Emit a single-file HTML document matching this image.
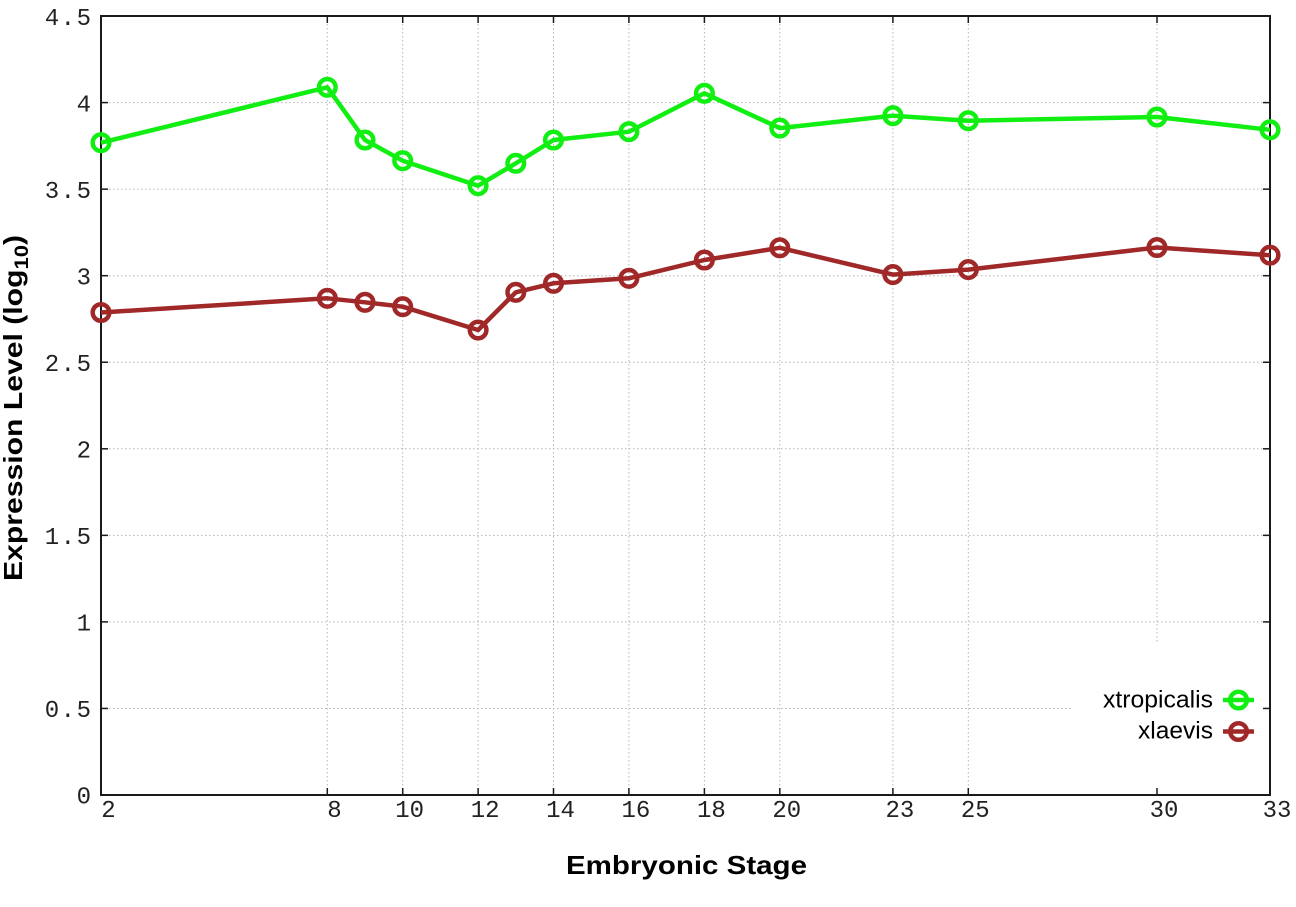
<!DOCTYPE html>
<html>
<head>
<meta charset="utf-8">
<style>
  html, body { margin:0; padding:0; background:#ffffff; }
  svg { display:block; }
</style>
</head>
<body>
<svg width="1296" height="907" viewBox="0 0 1296 907" xmlns="http://www.w3.org/2000/svg">
  <rect x="0" y="0" width="1296" height="907" fill="#ffffff"/>

  <!-- horizontal grid -->
  <g stroke="#b4b4b4" stroke-width="1" stroke-dasharray="1.5,2.5" fill="none">
    <line x1="101" y1="708.45" x2="1270" y2="708.45"/>
    <line x1="101" y1="621.9" x2="1270" y2="621.9"/>
    <line x1="101" y1="535.35" x2="1270" y2="535.35"/>
    <line x1="101" y1="448.8" x2="1270" y2="448.8"/>
    <line x1="101" y1="362.25" x2="1270" y2="362.25"/>
    <line x1="101" y1="275.7" x2="1270" y2="275.7"/>
    <line x1="101" y1="189.15" x2="1270" y2="189.15"/>
    <line x1="101" y1="102.6" x2="1270" y2="102.6"/>
    <!-- vertical grid -->
    <line x1="327.3" y1="16" x2="327.3" y2="795"/>
    <line x1="402.7" y1="16" x2="402.7" y2="795"/>
    <line x1="478.1" y1="16" x2="478.1" y2="795"/>
    <line x1="553.5" y1="16" x2="553.5" y2="795"/>
    <line x1="628.9" y1="16" x2="628.9" y2="795"/>
    <line x1="704.4" y1="16" x2="704.4" y2="795"/>
    <line x1="779.8" y1="16" x2="779.8" y2="795"/>
    <line x1="892.9" y1="16" x2="892.9" y2="795"/>
    <line x1="968.3" y1="16" x2="968.3" y2="795"/>
    <line x1="1157" y1="16" x2="1157" y2="795"/>
  </g>

  <!-- legend mask -->
  <rect x="1071" y="642" width="198" height="152" fill="#ffffff"/>

  <!-- border -->
  <rect x="101" y="16" width="1169" height="779" fill="none" stroke="#1a1a1a" stroke-width="2"/>

  <!-- ticks -->
  <g stroke="#1a1a1a" stroke-width="1.5">
    <line x1="101" y1="708.45" x2="108" y2="708.45"/><line x1="1263" y1="708.45" x2="1270" y2="708.45"/>
    <line x1="101" y1="621.9" x2="108" y2="621.9"/><line x1="1263" y1="621.9" x2="1270" y2="621.9"/>
    <line x1="101" y1="535.35" x2="108" y2="535.35"/><line x1="1263" y1="535.35" x2="1270" y2="535.35"/>
    <line x1="101" y1="448.8" x2="108" y2="448.8"/><line x1="1263" y1="448.8" x2="1270" y2="448.8"/>
    <line x1="101" y1="362.25" x2="108" y2="362.25"/><line x1="1263" y1="362.25" x2="1270" y2="362.25"/>
    <line x1="101" y1="275.7" x2="108" y2="275.7"/><line x1="1263" y1="275.7" x2="1270" y2="275.7"/>
    <line x1="101" y1="189.15" x2="108" y2="189.15"/><line x1="1263" y1="189.15" x2="1270" y2="189.15"/>
    <line x1="101" y1="102.6" x2="108" y2="102.6"/><line x1="1263" y1="102.6" x2="1270" y2="102.6"/>
    <line x1="327.3" y1="795" x2="327.3" y2="788"/><line x1="327.3" y1="16" x2="327.3" y2="23"/>
    <line x1="402.7" y1="795" x2="402.7" y2="788"/><line x1="402.7" y1="16" x2="402.7" y2="23"/>
    <line x1="478.1" y1="795" x2="478.1" y2="788"/><line x1="478.1" y1="16" x2="478.1" y2="23"/>
    <line x1="553.5" y1="795" x2="553.5" y2="788"/><line x1="553.5" y1="16" x2="553.5" y2="23"/>
    <line x1="628.9" y1="795" x2="628.9" y2="788"/><line x1="628.9" y1="16" x2="628.9" y2="23"/>
    <line x1="704.4" y1="795" x2="704.4" y2="788"/><line x1="704.4" y1="16" x2="704.4" y2="23"/>
    <line x1="779.8" y1="795" x2="779.8" y2="788"/><line x1="779.8" y1="16" x2="779.8" y2="23"/>
    <line x1="892.9" y1="795" x2="892.9" y2="788"/><line x1="892.9" y1="16" x2="892.9" y2="23"/>
    <line x1="968.3" y1="795" x2="968.3" y2="788"/><line x1="968.3" y1="16" x2="968.3" y2="23"/>
    <line x1="1157" y1="795" x2="1157" y2="788"/><line x1="1157" y1="16" x2="1157" y2="23"/>
  </g>

  <!-- y tick labels -->
  <g font-family="'Liberation Mono', monospace" font-size="24" fill="#222" text-anchor="end">
    <text x="91" y="803.5">0</text>
    <text x="92.5" y="717" letter-spacing="1.5">0.5</text>
    <text x="91" y="630.5">1</text>
    <text x="92.5" y="544" letter-spacing="1.5">1.5</text>
    <text x="91" y="457.5">2</text>
    <text x="92.5" y="371" letter-spacing="1.5">2.5</text>
    <text x="91" y="284.5">3</text>
    <text x="92.5" y="198" letter-spacing="1.5">3.5</text>
    <text x="91" y="111.5">4</text>
    <text x="92.5" y="25" letter-spacing="1.5">4.5</text>
  </g>

  <!-- x tick labels -->
  <g font-family="'Liberation Mono', monospace" font-size="24" fill="#222" text-anchor="middle">
    <text x="108.5" y="817">2</text>
    <text x="334.5" y="817">8</text>
    <text x="409.7" y="817">10</text>
    <text x="485.1" y="817">12</text>
    <text x="560.5" y="817">14</text>
    <text x="635.9" y="817">16</text>
    <text x="711.4" y="817">18</text>
    <text x="786.8" y="817">20</text>
    <text x="899.9" y="817">23</text>
    <text x="975.3" y="817">25</text>
    <text x="1164" y="817">30</text>
    <text x="1277" y="817">33</text>
  </g>

  <!-- axis titles -->
  <text x="566" y="874" font-family="'Liberation Sans', sans-serif" font-weight="bold" font-size="26" fill="#000" textLength="241" lengthAdjust="spacingAndGlyphs">Embryonic Stage</text>

  <g transform="translate(22,408) rotate(-90) scale(1.16,1)">
    <text x="0" y="0" text-anchor="middle" font-family="'Liberation Sans', sans-serif" font-weight="bold" font-size="26" fill="#000">Expression Level (log<tspan font-size="19" dy="6">10</tspan><tspan dy="-6">)</tspan></text>
  </g>

  <!-- xtropicalis series -->
  <g stroke="#11ee11" fill="none" stroke-width="4.5" stroke-linejoin="round">
    <polyline points="101,142.7 327.3,87.3 365,140 402.7,160.7 478.1,185.7 515.8,163.3 553.5,140 628.9,131.7 704.4,93.3 779.8,128.1 892.9,115.7 968.3,120.7 1157,117 1270,129.8"/>
    <circle cx="101" cy="142.7" r="8.3"/>
    <circle cx="327.3" cy="87.3" r="8.3"/>
    <circle cx="365" cy="140" r="8.3"/>
    <circle cx="402.7" cy="160.7" r="8.3"/>
    <circle cx="478.1" cy="185.7" r="8.3"/>
    <circle cx="515.8" cy="163.3" r="8.3"/>
    <circle cx="553.5" cy="140" r="8.3"/>
    <circle cx="628.9" cy="131.7" r="8.3"/>
    <circle cx="704.4" cy="93.3" r="8.3"/>
    <circle cx="779.8" cy="128.1" r="8.3"/>
    <circle cx="892.9" cy="115.7" r="8.3"/>
    <circle cx="968.3" cy="120.7" r="8.3"/>
    <circle cx="1157" cy="117" r="8.3"/>
    <circle cx="1270" cy="129.8" r="8.3"/>
  </g>

  <!-- xlaevis series -->
  <g stroke="#a02828" fill="none" stroke-width="4.5" stroke-linejoin="round">
    <polyline points="101,312.5 327.3,298.3 365,302.3 402.7,306.7 478.1,330 515.8,292.3 553.5,283.3 628.9,278.3 704.4,260 779.8,247.8 892.9,274.6 968.3,269.6 1157,247.5 1270,255.2"/>
    <circle cx="101" cy="312.5" r="8.3"/>
    <circle cx="327.3" cy="298.3" r="8.3"/>
    <circle cx="365" cy="302.3" r="8.3"/>
    <circle cx="402.7" cy="306.7" r="8.3"/>
    <circle cx="478.1" cy="330" r="8.3"/>
    <circle cx="515.8" cy="292.3" r="8.3"/>
    <circle cx="553.5" cy="283.3" r="8.3"/>
    <circle cx="628.9" cy="278.3" r="8.3"/>
    <circle cx="704.4" cy="260" r="8.3"/>
    <circle cx="779.8" cy="247.8" r="8.3"/>
    <circle cx="892.9" cy="274.6" r="8.3"/>
    <circle cx="968.3" cy="269.6" r="8.3"/>
    <circle cx="1157" cy="247.5" r="8.3"/>
    <circle cx="1270" cy="255.2" r="8.3"/>
  </g>

  <!-- legend -->
  <g font-family="'Liberation Sans', sans-serif" font-size="24" fill="#000">
    <text x="1103" y="707.5" textLength="110" lengthAdjust="spacingAndGlyphs">xtropicalis</text>
    <text x="1138" y="738.5" textLength="75" lengthAdjust="spacingAndGlyphs">xlaevis</text>
  </g>
  <g stroke="#11ee11" fill="none" stroke-width="4.5">
    <line x1="1223" y1="700" x2="1254" y2="700"/>
    <circle cx="1238.5" cy="700" r="8.3"/>
  </g>
  <g stroke="#a02828" fill="none" stroke-width="4.5">
    <line x1="1223" y1="731.5" x2="1254" y2="731.5"/>
    <circle cx="1238.5" cy="731.5" r="8.3"/>
  </g>
</svg>
</body>
</html>
